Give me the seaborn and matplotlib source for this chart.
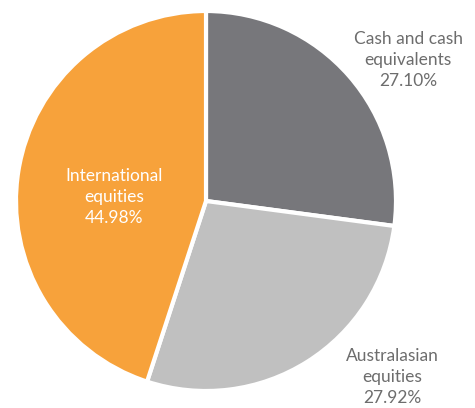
import matplotlib
matplotlib.use("Agg")
import matplotlib.pyplot as plt
import seaborn as sns

# ---- data ----
categories = ["Cash and cash\nequivalents", "Australasian\nequities", "International\nequities"]
shares = [27.10, 27.92, 44.98]
slice_colors = ["#77777b", "#c0c0c0", "#f7a23b"]

sns.set_theme(style="white")
plt.rcParams["font.family"] = ["Lato", "DejaVu Sans"]

fig = plt.figure(figsize=(4.75, 4.08), dpi=100)
ax = fig.add_axes([0, 0, 1, 1])

cx, cy, r = 206, 207, 190
ax.pie(shares, colors=sns.color_palette(slice_colors), startangle=90, counterclock=False,
       center=(cx, cy), radius=r, frame=True,
       wedgeprops=dict(edgecolor="white", linewidth=3))
ax.set_xlim(0, 475)
ax.set_ylim(0, 408)
ax.set_aspect("equal")
ax.axis("off")

# label positions (pixel units)
label_pos = [(408, 348), (392, 31), (114, 211)]
label_colors = ["#6d6d6d", "#6d6d6d", "white"]
for lab, val, (x, y), c in zip(categories, shares, label_pos, label_colors):
    ax.text(x, y, f"{lab}\n{val:.2f}%", ha="center", va="center",
            fontsize=12.5, color=c, linespacing=1.38)

fig.savefig("out.png", dpi=100)
